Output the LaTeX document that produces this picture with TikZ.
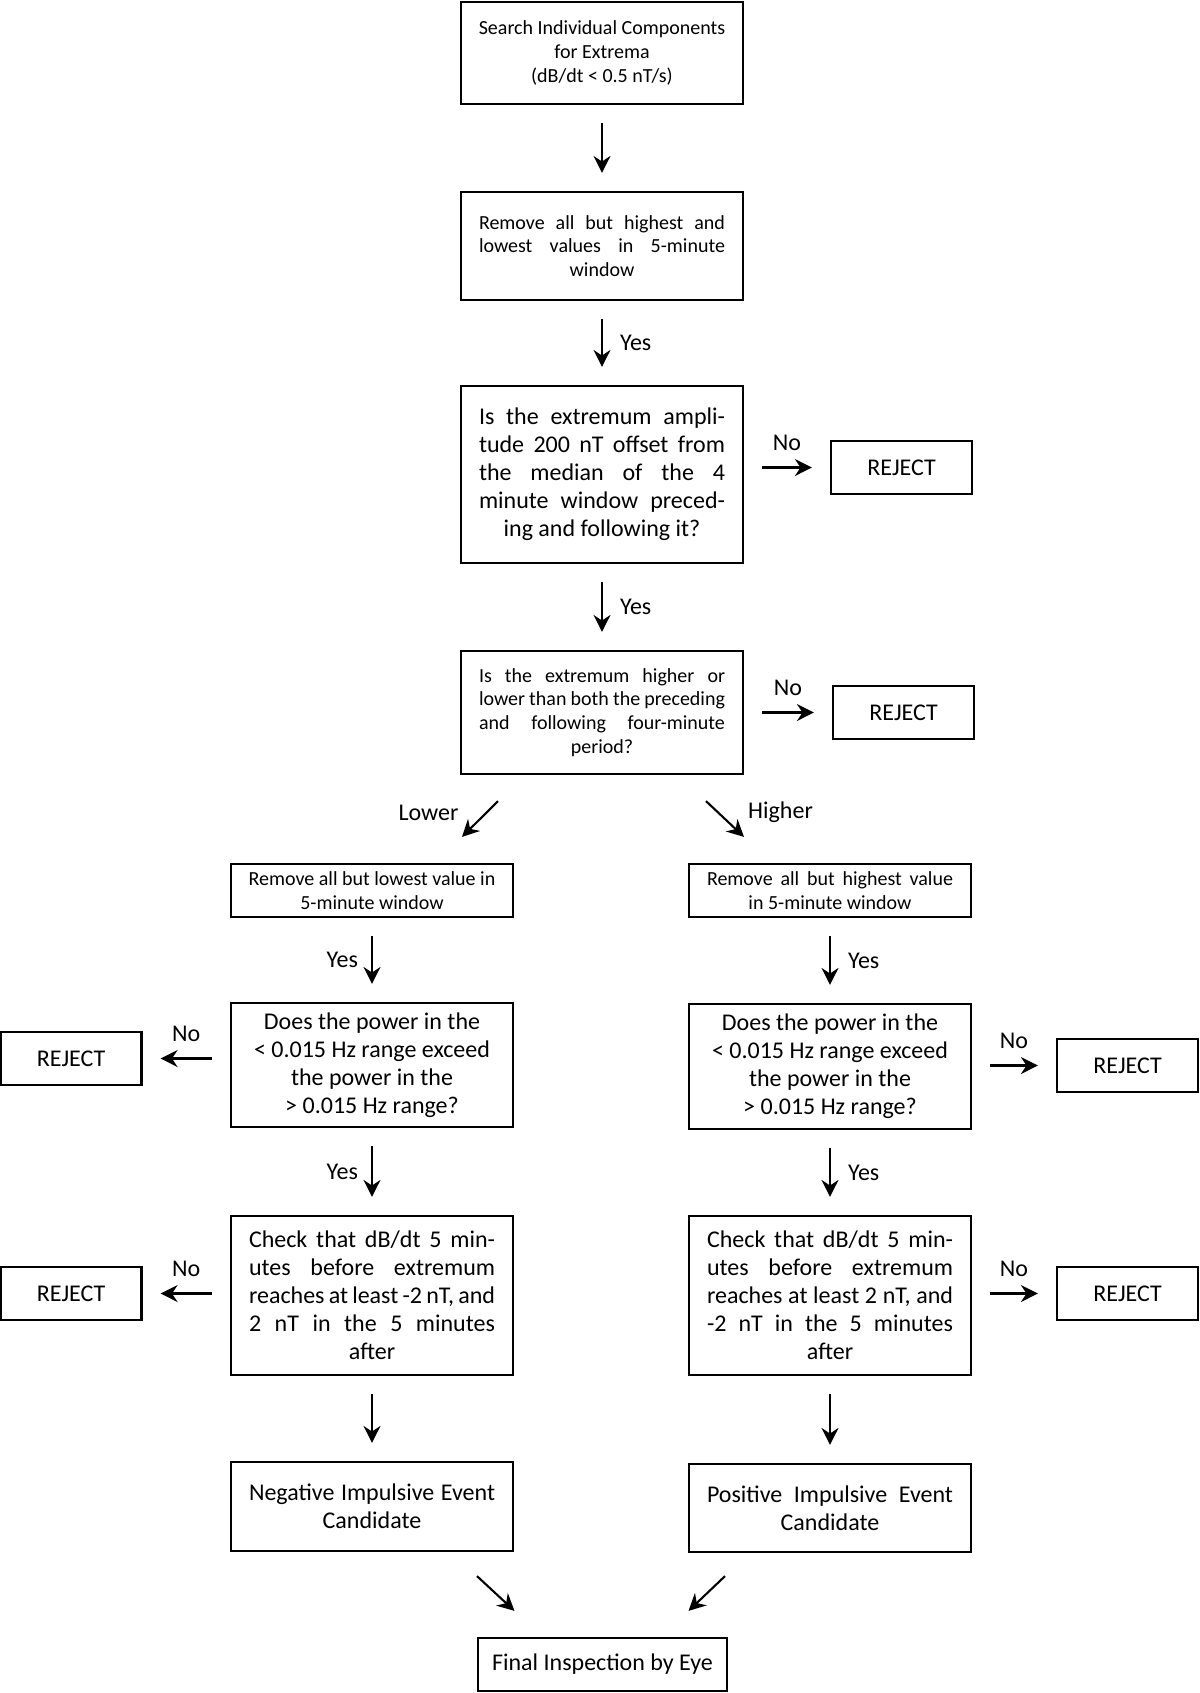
\documentclass[tikz,border=0pt]{standalone}
\usepackage{fontspec}
\setmainfont{Carlito}
\usetikzlibrary{arrows.meta}
% one justified line of a box
\newcommand{\jline}[1]{\makebox[123pt][s]{\spaceskip=0.22em plus 1fil minus 0.08em\relax #1}\\}
\tikzset{
  box/.style  ={rectangle, draw=black, line width=1.1pt, align=center, inner sep=0pt,
                minimum width=141pt, font=\fontsize{12}{14}\selectfont},
  boxs/.style ={box, font=\fontsize{10}{11.9}\selectfont},
  rej/.style  ={rectangle, draw=black, line width=1.1pt, inner sep=0pt,
                minimum width=70.5pt, minimum height=26.5pt,
                font=\fontsize{12}{14}\selectfont},
  lbl/.style  ={inner sep=0pt, font=\fontsize{12}{14}\selectfont},
  arr/.style  ={-{Stealth[length=8.5pt,width=8.5pt,inset=2.8pt]}, line width=1.05pt},
  ar/.style   ={arr, shorten <=9pt, shorten >=9pt},
}
\begin{document}
\begin{tikzpicture}[x=0.5pt, y=-0.5pt]
\useasboundingbox (0,0) rectangle (1200,1693);
% centre column
\node[boxs, minimum height=51pt] (search) at (602,53)
  {Search Individual Components\\for Extrema\\(dB/dt < 0.5 nT/s)};
\node[boxs, minimum height=54pt] (prune) at (602,246)
  {\jline{Remove all but highest and}\jline{lowest values in 5-minute}window};
\node[box, minimum height=88.5pt] (amp) at (602,474.5)
  {\jline{Is the extremum ampli-}\jline{tude 200 nT offset from}\jline{the median of the 4}\jline{minute window preced-}ing and following it?};
\node[rej] (rejA) at (901.5,467.5) {REJECT};
\node[boxs, minimum height=61.5pt] (side) at (602,712.5)
  {\jline{Is the extremum higher or}\jline{lower than both the preceding}\jline{and following four-minute}period?};
\node[rej] (rejB) at (903.5,712.5) {REJECT};
% lower branch
\node[boxs, minimum height=26.5pt] (lowrm) at (372,890.5)
  {Remove all but lowest value in\\5-minute window};
\node[box, minimum height=62pt] (lowpow) at (372,1065)
  {Does the power in the\\< 0.015 Hz range exceed\\the power in the\\> 0.015 Hz range?};
\node[rej] (rejC) at (71,1058.5) {REJECT};
\node[box, minimum height=79.5pt] (lowchk) at (372,1295.5)
  {\jline{Check that dB/dt 5 min-}\jline{utes before extremum}\jline{reaches at least -2 nT, and}\jline{2 nT in the 5 minutes}after};
\node[rej] (rejD) at (71,1293.5) {REJECT};
\node[box, minimum height=44.5pt] (neg) at (372,1506.5)
  {\jline{Negative Impulsive Event}Candidate};
% higher branch
\node[boxs, minimum height=26.5pt] (highrm) at (830,890.5)
  {\jline{Remove all but highest value}in 5-minute window};
\node[box, minimum height=62.5pt] (highpow) at (830,1066.5)
  {Does the power in the\\< 0.015 Hz range exceed\\the power in the\\> 0.015 Hz range?};
\node[rej] (rejE) at (1127.5,1065.5) {REJECT};
\node[box, minimum height=79.5pt] (highchk) at (830,1295.5)
  {\jline{Check that dB/dt 5 min-}\jline{utes before extremum}\jline{reaches at least 2 nT, and}\jline{-2 nT in the 5 minutes}after};
\node[rej] (rejF) at (1127.5,1293.5) {REJECT};
\node[box, minimum height=44pt] (pos) at (830,1508)
  {\jline{Positive Impulsive Event}Candidate};
\node[box, minimum width=124.5pt, minimum height=26.5pt] (final) at (602.5,1664.5)
  {Final Inspection by Eye};
% connectors
\draw[ar] (search) -- (prune);
\draw[ar] (prune) -- node[lbl, right=8.5pt] {Yes} (amp);
\draw[ar] (amp) -- node[lbl, right=8.5pt] {Yes} (side);
\draw[ar] (amp.east |- rejA) -- node[lbl, above=8pt] {No} (rejA);
\draw[ar] (side.east |- rejB) -- node[lbl, above=8pt] {No} (rejB);
\draw[arr] ([xshift=-52pt,yshift=-13pt]side.south) -- node[lbl, pos=0.32, left=13.5pt] {Lower} ([xshift=45pt,yshift=13pt]lowrm.north);
\draw[arr] ([xshift=52pt,yshift=-13pt]side.south) -- node[lbl, pos=0.32, right=14.5pt] {Higher} ([xshift=-43pt,yshift=13pt]highrm.north);
\draw[ar] (lowrm) -- node[lbl, left=6.5pt] {Yes} (lowpow);
\draw[ar] (lowpow) -- node[lbl, left=6.5pt] {Yes} (lowchk);
\draw[ar] (lowchk) -- (neg);
\draw[ar] (lowpow.west |- rejC) -- node[lbl, above=8pt] {No} (rejC);
\draw[ar] (lowchk.west |- rejD) -- node[lbl, above=8pt] {No} (rejD);
\draw[ar] (highrm) -- node[lbl, right=8.5pt] {Yes} (highpow);
\draw[ar] (highpow) -- node[lbl, right=8.5pt] {Yes} (highchk);
\draw[ar] (highchk) -- (pos);
\draw[ar] (highpow.east |- rejE) -- node[lbl, above=8pt] {No} (rejE);
\draw[ar] (highchk.east |- rejF) -- node[lbl, above=8pt] {No} (rejF);
\draw[arr] ([xshift=52.5pt,yshift=-12pt]neg.south) -- ([xshift=-44pt,yshift=13pt]final.north);
\draw[arr] ([xshift=-52.5pt,yshift=-11.5pt]pos.south) -- ([xshift=43pt,yshift=13pt]final.north);
\end{tikzpicture}
\end{document}
